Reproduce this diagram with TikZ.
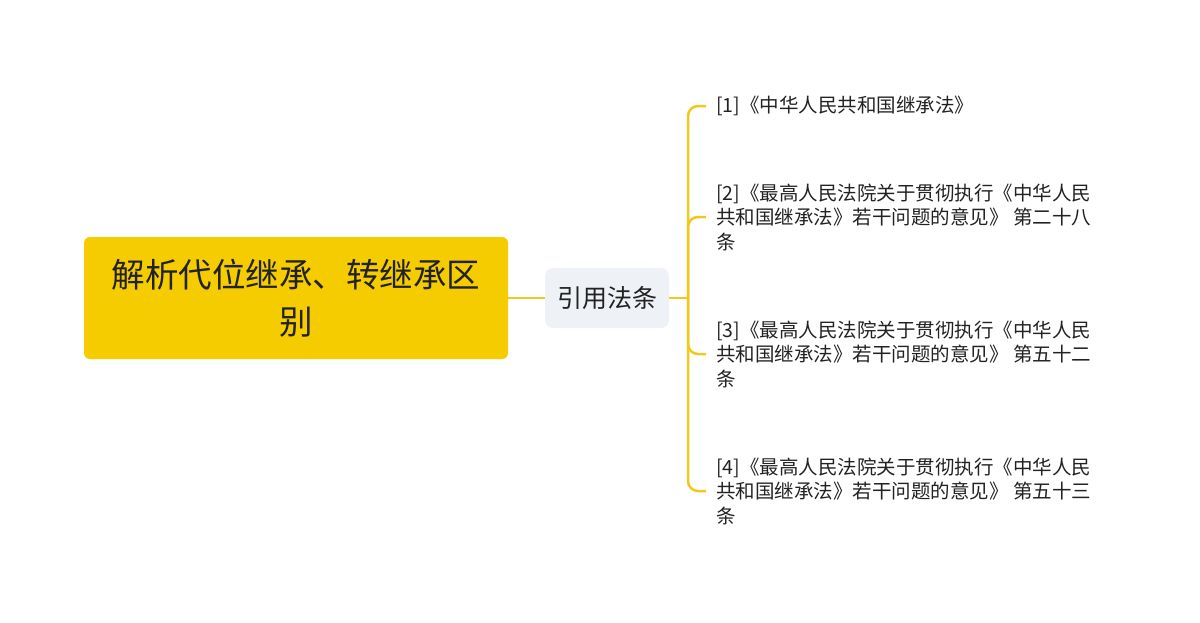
\documentclass[tikz,border=0pt]{standalone}
\usepackage{fontspec}
\setmainfont{Noto Sans CJK SC}
\definecolor{mainyellow}{RGB}{245,204,0}
\definecolor{lineyellow}{RGB}{240,200,30}
\definecolor{subgray}{RGB}{238,241,245}
\definecolor{textdark}{RGB}{34,34,34}
\begin{document}
\begin{tikzpicture}[x=1pt, y=-1pt,
    mainbox/.style={fill=mainyellow, rounded corners=6pt, minimum width=424pt, minimum height=122pt, align=center, text=textdark, font=\fontsize{33.5}{47}\selectfont},
    subbox/.style={fill=subgray, rounded corners=8pt, minimum width=124pt, minimum height=60pt, text=textdark, font=\fontsize{25}{30}\selectfont},
    leaf/.style={anchor=west, inner xsep=10pt, inner ysep=0pt, align=left, text=textdark, font=\fontsize{19.5}{24.5}\selectfont},
    branch/.style={lineyellow, line width=2.5pt, rounded corners=10pt}]
    % Margins
    \useasboundingbox (0,0) rectangle (1200,622);
    % Nodes
    \node[mainbox] (root) at (296,298) {解析代位继承、转继承区\\别};
    \node[subbox] (cite) at (607,298) {引用法条};
    \coordinate (fork) at (688,298);
    \node[leaf] (law1) at (706,106) {[1]《中华人民共和国继承法》};
    \node[leaf] (law2) at (706,217) {[2]《最高人民法院关于贯彻执行《中华人民\\共和国继承法》若干问题的意见》 第二十八\\条};
    \node[leaf] (law3) at (706,354) {[3]《最高人民法院关于贯彻执行《中华人民\\共和国继承法》若干问题的意见》 第五十二\\条};
    \node[leaf] (law4) at (706,491) {[4]《最高人民法院关于贯彻执行《中华人民\\共和国继承法》若干问题的意见》 第五十三\\条};
    % Linee
    \draw[branch] (root.east) -- (cite.west);
    \draw[branch] (cite.east) -- (fork);
    \foreach \k in {1,...,4}
        \draw[branch] (fork) |- (law\k.west);
\end{tikzpicture}
\end{document}
